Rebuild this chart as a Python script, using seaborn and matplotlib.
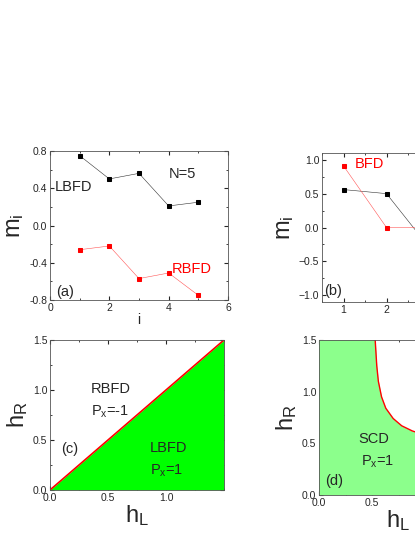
import numpy as np
import pandas as pd
import matplotlib
matplotlib.use("Agg")
import matplotlib.pyplot as plt
import seaborn as sns
from matplotlib.ticker import AutoMinorLocator

sns.set_style("ticks")
plt.rcParams['font.family'] = ['Liberation Sans', 'DejaVu Sans']
plt.rcParams['mathtext.fontset'] = 'custom'
plt.rcParams['mathtext.rm'] = 'Liberation Sans'
plt.rcParams['mathtext.it'] = 'Liberation Sans'

# Panel (a)
a_i = [1, 2, 3, 4, 5]
a_lbfd = [0.75, 0.50, 0.56, 0.21, 0.25]
a_rbfd = [-0.26, -0.22, -0.57, -0.51, -0.75]
# Panel (b)
b_i = [1, 2, 3, 4]
b_black = [0.56, 0.50, -0.30, -0.90]
b_red = [0.91, 0.0, 0.0, 0.0]
# Panel (c): boundary hR = hL
c_hl = [0.0, 1.5]
c_hr = [0.0, 1.5]
# Panel (d): boundary curve
d_hl = [0.53, 0.545, 0.56, 0.59, 0.63, 0.70, 0.78, 0.88, 1.0, 1.2, 1.5]
d_hr = [1.50, 1.25, 1.10, 0.95, 0.84, 0.74, 0.67, 0.62, 0.58, 0.55, 0.53]

W, H = 415, 537
fig = plt.figure(figsize=(W/100, H/100), dpi=100)
def ax_at(l, t, r, b):
    return fig.add_axes([l/W, 1-b/H, (r-l)/W, (b-t)/H])

def style(ax):
    ax.tick_params(direction='in', labelsize=7.5, length=3, top=True, right=True, pad=2)
    ax.tick_params(which='minor', direction='in', length=1.5, top=True, right=True)
    ax.xaxis.set_minor_locator(AutoMinorLocator(2))
    ax.yaxis.set_minor_locator(AutoMinorLocator(2))
    for s in ax.spines.values():
        s.set_linewidth(0.6); s.set_color('#555555')

TS = 10.5
ax = ax_at(50, 151, 228, 300)
sns.lineplot(x=a_i, y=a_lbfd, ax=ax, color='#333333', lw=0.4, marker='s', markersize=3, mec='black', mfc='black')
sns.lineplot(x=a_i, y=a_rbfd, ax=ax, color='#ff5555', lw=0.4, marker='s', markersize=3, mec='red', mfc='red')
ax.set_xlim(0, 6); ax.set_ylim(-0.8, 0.8)
ax.set_xticks([0, 2, 4, 6]); ax.set_yticks([-0.8, -0.4, 0.0, 0.4, 0.8])
ax.set_yticklabels(['-0.8', '-0.4', '0.0', '0.4', '0.8'])
ax.set_xlabel('i', fontsize=10, labelpad=0)
ax.set_ylabel(r'$\mathrm{m_i}$', fontsize=17, labelpad=2)
ax.text(0.17, 0.37, 'LBFD', fontsize=TS)
ax.text(4.0, 0.51, 'N=5', fontsize=TS)
ax.text(4.1, -0.51, 'RBFD', fontsize=TS, color='red')
ax.text(0.2, -0.76, '(a)', fontsize=TS)
style(ax)

ax = ax_at(322, 153, 537, 302)
sns.lineplot(x=b_i, y=b_black, ax=ax, color='#333333', lw=0.4, marker='s', markersize=3, mec='black', mfc='black')
sns.lineplot(x=b_i, y=b_red, ax=ax, color='#ff5555', lw=0.4, marker='s', markersize=3, mec='red', mfc='red')
ax.set_xlim(0.5, 5.5); ax.set_ylim(-1.1, 1.1)
ax.set_xticks([1, 2, 3, 4, 5]); ax.set_yticks([-1.0, -0.5, 0.0, 0.5, 1.0])
ax.set_xlabel('i', fontsize=10, labelpad=0)
ax.set_ylabel(r'$\mathrm{m_i}$', fontsize=17, labelpad=2)
ax.text(1.25, 0.88, 'BFD', fontsize=TS, color='red')
ax.text(2.85, -0.75, 'SCD', fontsize=TS)
ax.text(0.55, -1.0, '(b)', fontsize=TS)
style(ax)

ax = ax_at(50, 340, 224, 490)
ax.fill_between(c_hl, c_hr, 0, color='#00ff00', lw=0)
sns.lineplot(x=c_hl, y=c_hr, ax=ax, color='red', lw=1.2)
ax.set_xlim(0, 1.5); ax.set_ylim(0, 1.5)
ax.set_xticks([0, 0.5, 1.0]); ax.set_yticks([0, 0.5, 1.0, 1.5])
ax.set_xticklabels(['0.0', '0.5', '1.0']); ax.set_yticklabels(['0.0', '0.5', '1.0', '1.5'])
ax.set_xlabel(r'$\mathrm{h_L}$', fontsize=17, labelpad=0)
ax.set_ylabel(r'$\mathrm{h_R}$', fontsize=17, labelpad=2)
ax.text(0.35, 0.97, 'RBFD', fontsize=TS)
ax.text(0.35, 0.74, r'P$_\mathrm{x}$=-1', fontsize=TS)
ax.text(0.86, 0.38, 'LBFD', fontsize=TS)
ax.text(0.86, 0.15, r'P$_\mathrm{x}$=1', fontsize=TS)
ax.text(0.1, 0.37, '(c)', fontsize=TS)
style(ax)

ax = ax_at(319, 340, 478, 495)
ax.fill_between([0.0] + d_hl, [1.5] + d_hr, 0, color='#8cff8c', lw=0)
ax.fill_between([0.0, 0.53], [1.5, 1.5], 0, color='#8cff8c', lw=0)
sns.lineplot(x=d_hl, y=d_hr, ax=ax, color='red', lw=1.0, sort=False)
ax.set_xlim(0, 1.5); ax.set_ylim(0, 1.5)
ax.set_xticks([0, 0.5, 1.0]); ax.set_yticks([0, 0.5, 1.0, 1.5])
ax.set_xticklabels(['0.0', '0.5', '1.0']); ax.set_yticklabels(['0.0', '0.5', '1.0', '1.5'])
ax.set_xlabel(r'$\mathrm{h_L}$', fontsize=17, labelpad=0)
ax.set_ylabel(r'$\mathrm{h_R}$', fontsize=17, labelpad=2)
ax.text(0.37, 0.5, 'SCD', fontsize=TS)
ax.text(0.40, 0.28, r'P$_\mathrm{x}$=1', fontsize=TS)
ax.text(0.06, 0.1, '(d)', fontsize=TS)
style(ax)

fig.savefig('out.png', dpi=100)
